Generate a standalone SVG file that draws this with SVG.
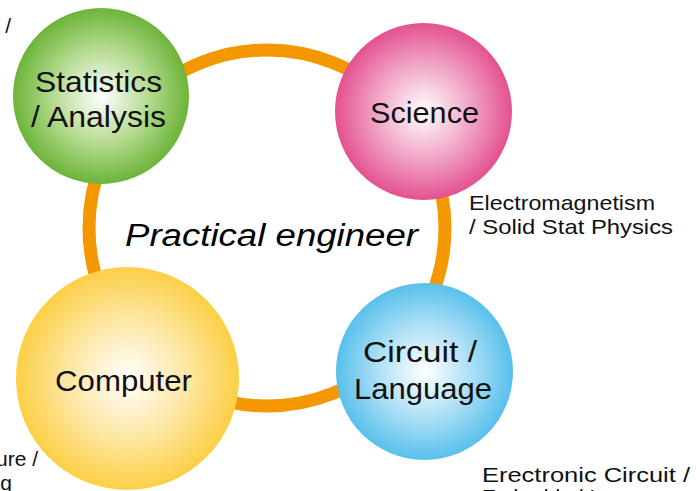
<svg xmlns="http://www.w3.org/2000/svg" width="696" height="491" viewBox="0 0 696 491">
<defs>
<radialGradient id="gGreen" cx="50%" cy="50%" r="50%">
<stop offset="0" stop-color="#ffffff"/>
<stop offset="0.55" stop-color="#b4da8e"/>
<stop offset="1" stop-color="#6cb43a"/>
</radialGradient>
<radialGradient id="gPink" cx="50%" cy="50%" r="50%">
<stop offset="0" stop-color="#ffffff"/>
<stop offset="0.55" stop-color="#f0a3c5"/>
<stop offset="1" stop-color="#e4518f"/>
</radialGradient>
<radialGradient id="gYellow" cx="50%" cy="50%" r="50%">
<stop offset="0" stop-color="#ffffff"/>
<stop offset="0.55" stop-color="#fde6a0"/>
<stop offset="1" stop-color="#fccf45"/>
</radialGradient>
<radialGradient id="gBlue" cx="50%" cy="50%" r="50%">
<stop offset="0" stop-color="#ffffff"/>
<stop offset="0.55" stop-color="#a9def5"/>
<stop offset="1" stop-color="#58c0ec"/>
</radialGradient>
</defs>
<style>
.lbl{font-family:"Liberation Sans",Arial,sans-serif;font-size:30px;fill:#111;}
.sm{font-family:"Liberation Sans",Arial,sans-serif;font-size:21px;fill:#111;}
.title{font-family:"Liberation Sans",Arial,sans-serif;font-size:31px;font-style:italic;fill:#000;}
.ring{fill:none;stroke:#f39800;stroke-width:13;}
</style>
<rect width="696" height="491" fill="#ffffff"/>
<g id="connectors">
<circle class="ring" cx="267" cy="228" r="178"/>
</g>
<g id="title">
<text class="title" x="125" y="246" textLength="293" lengthAdjust="spacingAndGlyphs">Practical engineer</text>
</g>
<g id="node-statistics">
<circle cx="101" cy="96" r="88" fill="url(#gGreen)"/>
<text class="lbl" x="35" y="92" textLength="127" lengthAdjust="spacingAndGlyphs">Statistics</text>
<text class="lbl" x="31" y="127" textLength="135" lengthAdjust="spacingAndGlyphs">/ Analysis</text>
</g>
<g id="node-science">
<circle cx="423.5" cy="111.5" r="88.5" fill="url(#gPink)"/>
<text class="lbl" x="370" y="123" textLength="109" lengthAdjust="spacingAndGlyphs">Science</text>
</g>
<g id="node-computer">
<circle cx="127.5" cy="378.5" r="111.5" fill="url(#gYellow)"/>
<text class="lbl" x="55" y="391" textLength="137" lengthAdjust="spacingAndGlyphs">Computer</text>
</g>
<g id="node-circuit">
<circle cx="424.5" cy="371.5" r="88.5" fill="url(#gBlue)"/>
<text class="lbl" x="363" y="362" textLength="114" lengthAdjust="spacingAndGlyphs">Circuit /</text>
<text class="lbl" x="354" y="399" textLength="138" lengthAdjust="spacingAndGlyphs">Language</text>
</g>
<g id="notes">
<text class="sm" x="11" y="33" text-anchor="end">Mathematics /</text>
<text class="sm" x="469" y="210" textLength="186" lengthAdjust="spacingAndGlyphs">Electromagnetism</text>
<text class="sm" x="469" y="234" textLength="204" lengthAdjust="spacingAndGlyphs">/ Solid Stat Physics</text>
<text class="sm" x="38" y="466" text-anchor="end">Architecture /</text>
<text class="sm" x="12" y="490" text-anchor="end">Programming</text>
<text class="sm" x="482" y="482" textLength="208" lengthAdjust="spacingAndGlyphs">Erectronic Circuit /</text>
<text class="sm" x="482" y="504">Embedded Language</text>
</g>
</svg>
